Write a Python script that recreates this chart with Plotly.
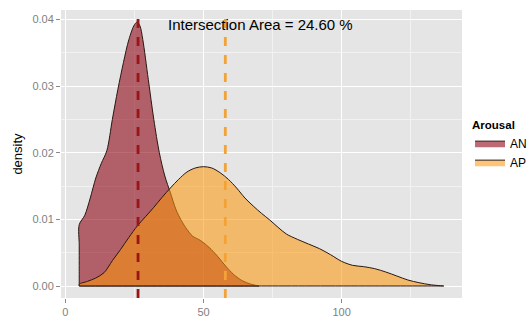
import plotly.graph_objects as go

# ---- data ----
an_x = [5, 7, 9, 11, 13, 15, 17, 19, 21, 23, 25, 26, 27, 28, 30, 32, 34, 36, 38, 40,
        42, 44, 46, 49, 52, 55, 58, 61, 64, 67, 70]
an_y = [0.0092, 0.0106, 0.0132, 0.0162, 0.0184, 0.0203, 0.0250, 0.0295, 0.0335, 0.0370,
        0.0392, 0.0396, 0.0390, 0.0370, 0.0310, 0.0250, 0.0200, 0.0165, 0.0140, 0.0115,
        0.0098, 0.0085, 0.0075, 0.0068, 0.0058, 0.0045, 0.0030, 0.0017, 0.0008, 0.0003, 0.0000]

ap_x = [5, 8, 11, 14, 17, 20, 23, 26, 29, 32, 35, 38, 41, 44, 47, 50, 53, 56, 59, 62,
        65, 68, 71, 74, 77, 80, 84, 88, 92, 96, 100, 104, 108, 112, 116, 120, 124, 128, 132, 137]
ap_y = [0.0003, 0.0007, 0.0012, 0.0020, 0.0038, 0.0055, 0.0073, 0.0090, 0.0104, 0.0118,
        0.0133, 0.0147, 0.0160, 0.0171, 0.0177, 0.0179, 0.0177, 0.0170, 0.0160, 0.0147,
        0.0132, 0.0120, 0.0109, 0.0099, 0.0088, 0.0078, 0.0070, 0.0063, 0.0056, 0.0047,
        0.0037, 0.0031, 0.0029, 0.0026, 0.0021, 0.0015, 0.0009, 0.0005, 0.0002, 0.0000]

groups = ["AN", "AP"]
means = [26.3, 57.9]
intersection_label = "Intersection Area = 24.60 %"

x_ticks = [0, 50, 100]
y_ticks = [0.00, 0.01, 0.02, 0.03, 0.04]
y_tick_text = ["0.00", "0.01", "0.02", "0.03", "0.04"]

fills = ["rgba(139,0,16,0.58)", "rgba(253,149,7,0.55)"]
vline_colors = ["#9a1515", "#f3a235"]
outline = "#2a1710"

fig = go.Figure()

for name, xs, ys, fc in [(groups[0], an_x, an_y, fills[0]), (groups[1], ap_x, ap_y, fills[1])]:
    x0, x1, y0 = xs[0], xs[-1], ys[0]
    mid = (x0 + x1) / 2
    # polygon: straight left edge, the curve, then straight back along the baseline
    px = [x0, x0, x0, x0] + list(xs) + [x1, x1, mid, x0, x0, x0]
    py = [0, 0, y0 / 3, 2 * y0 / 3] + list(ys) + [0, 0, 0, 0, 0, 0]
    fig.add_trace(go.Scatter(
        x=px, y=py, mode="lines", fill="toself", fillcolor=fc,
        line=dict(color=outline, width=1, shape="spline", smoothing=0.9),
        name=name, hoverinfo="skip"))

for m, c in zip(means, vline_colors):
    fig.add_shape(type="line", xref="x", yref="paper", x0=m, x1=m, y0=0, y1=1,
                  line=dict(color=c, width=2.8, dash="9px,9px"), layer="above")

fig.add_annotation(x=70.5, y=0.0393, xref="x", yref="y", text=intersection_label,
                   showarrow=False, font=dict(size=15, color="black",
                                              family="Liberation Sans, Arial, sans-serif"))

fig.update_layout(
    width=530, height=320,
    margin=dict(l=61, r=68, t=10, b=22, autoexpand=False),
    paper_bgcolor="white", plot_bgcolor="#e5e5e5",
    font=dict(family="Liberation Sans, Arial, sans-serif"),
    showlegend=True,
    legend=dict(x=1.02, y=0.64, xanchor="left", yanchor="top",
                title=dict(text="<b>Arousal</b>", font=dict(size=11.5, color="black")),
                font=dict(size=12, color="black"), bgcolor="rgba(0,0,0,0)",
                itemwidth=30, tracegroupgap=0),
    xaxis=dict(range=[-1.6, 143.6], tickvals=x_ticks, ticktext=[str(v) for v in x_ticks],
               automargin=False,
               showgrid=True, gridcolor="white", gridwidth=1.1, zeroline=False,
               ticks="outside", ticklen=4, tickcolor="#8a8a8a",
               tickfont=dict(size=11, color="#7f7f7f"), showline=False,
               minor=dict(tickvals=[25, 75, 125], showgrid=True, gridcolor="#f2f2f2", gridwidth=0.6)),
    yaxis=dict(range=[-0.0018, 0.0414], tickvals=y_ticks, ticktext=y_tick_text,
               automargin=False,
               showgrid=True, gridcolor="white", gridwidth=1.1, zeroline=False,
               ticks="outside", ticklen=4, tickcolor="#8a8a8a",
               tickfont=dict(size=11, color="#7f7f7f"), showline=False,
               title=dict(text="density", font=dict(size=13, color="black"), standoff=6),
               minor=dict(tickvals=[0.005, 0.015, 0.025, 0.035], showgrid=True,
                          gridcolor="#f2f2f2", gridwidth=0.6)),
)

fig.write_html("out.html", config={"displayModeBar": False},
               post_script="document.body.style.margin='0';document.body.style.overflow='hidden';")
